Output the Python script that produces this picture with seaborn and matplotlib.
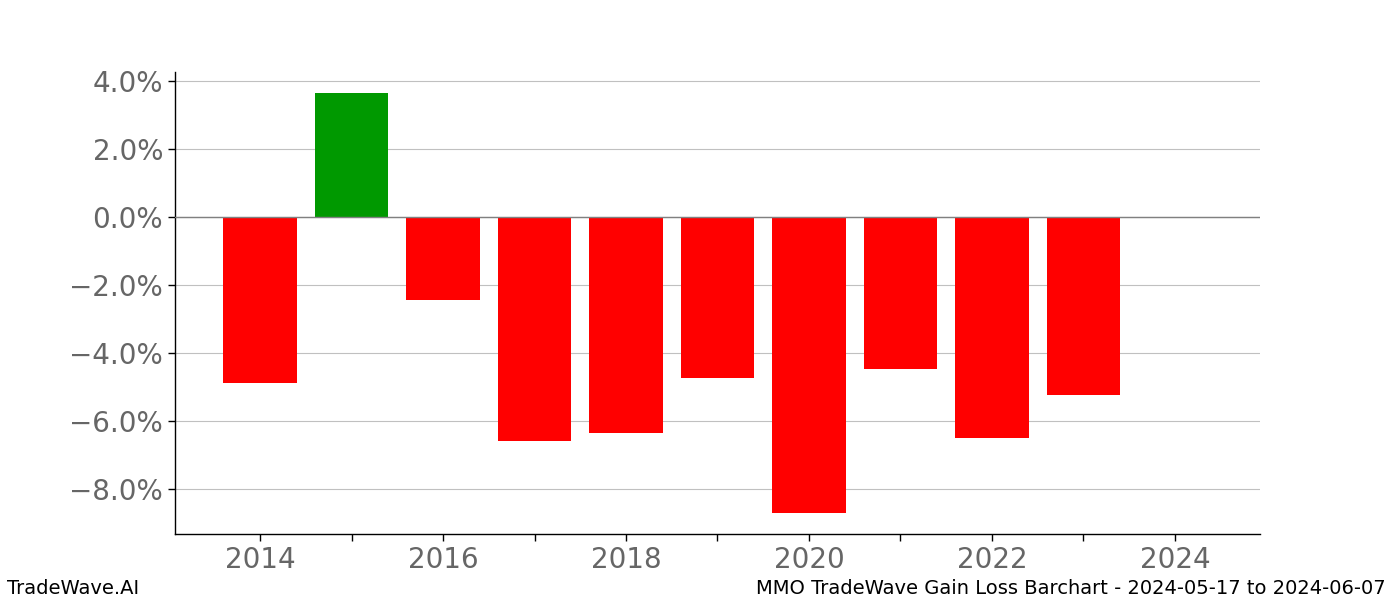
import matplotlib
matplotlib.use("Agg")
import matplotlib.pyplot as plt
import seaborn as sns
import pandas as pd
import numpy as np
from matplotlib.ticker import FuncFormatter

years = [2014, 2015, 2016, 2017, 2018, 2019, 2020, 2021, 2022, 2023]
gains = [-4.88, 3.65, -2.44, -6.59, -6.35, -4.74, -8.71, -4.47, -6.50, -5.24]
tick_years = list(range(2014, 2025))

df = pd.DataFrame({"year": years, "gain": gains})
df["sign"] = np.where(df["gain"] >= 0, "gain", "loss")

sns.set_style("white")
plt.rcParams['font.family'] = ['DejaVu Sans']

fig = plt.figure(figsize=(14, 6), dpi=100)
ax = fig.add_axes([0.125, 0.11, 0.775, 0.77])

sns.barplot(data=df, x="year", y="gain", hue="sign", native_scale=True,
            palette={"gain": "#009900", "loss": "#ff0000"}, width=0.8,
            legend=False, ax=ax, saturation=1, linewidth=0)

ax.set_xlim(2013.07, 2024.93)
ax.set_ylim(-9.32, 4.26)
ax.set_yticks([-8, -6, -4, -2, 0, 2, 4])
ax.yaxis.set_major_formatter(FuncFormatter(lambda v, p: f"{v:.1f}%".replace("-", "\u2212")))
ax.set_xticks(tick_years)
ax.set_xticklabels([str(y) if y % 2 == 0 else "" for y in tick_years])
ax.grid(axis="y", color="#c0c0c0", linewidth=0.8)
ax.set_axisbelow(True)
ax.axhline(0, color="#808080", linewidth=1, zorder=5)
ax.tick_params(axis="both", labelsize=20, labelcolor="#666666", length=5, width=1,
               color="black", bottom=True, left=True)
ax.set_xlabel("")
ax.set_ylabel("")
for s in ["top", "right"]:
    ax.spines[s].set_visible(False)
for s in ["left", "bottom"]:
    ax.spines[s].set_color("black")
    ax.spines[s].set_linewidth(1)

fig.text(0.005, 0.004, "TradeWave.AI", fontsize=14, ha="left", va="bottom", color="black")
fig.text(0.99, 0.004, "MMO TradeWave Gain Loss Barchart - 2024-05-17 to 2024-06-07",
         fontsize=14, ha="right", va="bottom", color="black")

fig.savefig("out.png", dpi=100)
